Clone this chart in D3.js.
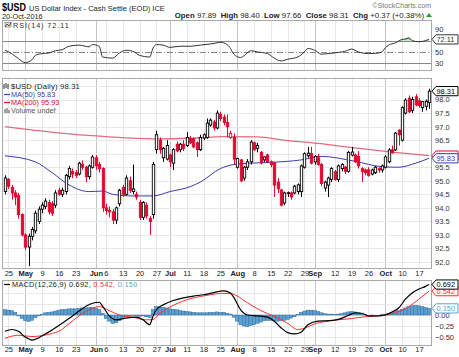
<!DOCTYPE html>
<html><head><meta charset="utf-8">
<script src="https://cdn.jsdelivr.net/npm/d3@7"></script>
<style>
body{margin:0;background:#fff}
svg{display:block}
text{font-family:"Liberation Sans",Arial,sans-serif}
</style>
</head><body>
<svg id="c" width="459" height="357"></svg>
<script>
// ---------- DATA ----------
const dates = ["04-22","04-25","04-26","04-27","04-28","04-29",
"05-02","05-03","05-04","05-05","05-06","05-09","05-10","05-11","05-12","05-13","05-16","05-17","05-18","05-19","05-20","05-23","05-24","05-25","05-26","05-27","05-31",
"06-01","06-02","06-03","06-06","06-07","06-08","06-09","06-10","06-13","06-14","06-15","06-16","06-17","06-20","06-21","06-22","06-23","06-24","06-27","06-28","06-29","06-30",
"07-01","07-05","07-06","07-07","07-08","07-11","07-12","07-13","07-14","07-15","07-18","07-19","07-20","07-21","07-22","07-25","07-26","07-27","07-28","07-29",
"08-01","08-02","08-03","08-04","08-05","08-08","08-09","08-10","08-11","08-12","08-15","08-16","08-17","08-18","08-19","08-22","08-23","08-24","08-25","08-26","08-29","08-30","08-31",
"09-01","09-02","09-06","09-07","09-08","09-09","09-12","09-13","09-14","09-15","09-16","09-19","09-20","09-21","09-22","09-23","09-26","09-27","09-28","09-29","09-30",
"10-03","10-04","10-05","10-06","10-07","10-10","10-11","10-12","10-13","10-14","10-17","10-18","10-19","10-20"];

const open = [94.6,95.05,94.75,94.55,94.45,93.75,93.0,92.55,92.95,93.15,93.5,93.95,94.05,94.2,94.15,94.1,94.65,94.5,94.6,95.15,95.35,95.3,95.25,95.6,95.5,95.15,95.5,
95.85,95.6,95.45,94.0,93.9,93.85,93.55,94.15,94.75,94.5,95.0,94.6,94.5,94.2,93.65,94.1,93.6,93.75,96.15,96.5,95.85,95.8,
95.95,95.65,96.35,96.15,96.35,96.3,96.55,96.55,96.4,96.15,96.58,96.6,97.06,97.17,96.95,97.45,97.35,97.15,96.6,96.6,
95.5,95.77,95.1,95.5,95.7,96.4,96.2,96.05,95.77,95.95,95.7,95.66,94.95,94.66,94.18,94.55,94.55,94.55,94.6,94.6,95.5,95.92,96.0,
95.7,95.85,95.6,94.73,94.84,95.05,95.33,95.05,95.45,95.5,95.35,95.95,95.95,95.9,95.45,95.4,95.4,95.25,95.3,95.45,95.4,
95.5,95.7,96.14,96.14,96.87,96.5,97.5,98.05,97.6,98.1,97.95,97.7,97.75,97.89];
const high = [95.2,95.1,94.85,94.65,94.55,93.8,93.05,93.05,93.3,93.9,94.05,94.2,94.35,94.3,94.25,94.65,94.75,94.75,95.25,95.55,95.45,95.4,95.7,95.75,95.55,95.6,95.95,
95.95,95.7,95.5,94.15,94.05,93.95,94.05,94.7,94.85,95.2,95.15,95.6,94.6,94.3,94.25,94.2,93.7,95.7,96.85,96.6,96.25,96.5,
96.0,96.2,96.45,96.4,96.5,96.8,96.65,96.6,96.45,96.7,96.75,97.3,97.3,97.25,97.6,97.55,97.45,97.45,96.85,96.75,
95.85,95.8,95.55,95.8,96.5,96.45,96.4,96.1,95.9,96.0,95.75,95.7,95.1,94.7,94.6,94.6,94.6,94.85,94.9,95.6,96.05,96.25,96.25,
95.95,96.0,95.65,95.0,95.15,95.5,95.4,95.6,95.65,95.55,96.1,96.25,96.0,96.1,95.5,95.45,95.5,95.45,95.55,95.5,95.6,
95.95,96.2,96.3,96.8,96.9,97.75,98.05,98.15,98.1,98.2,98.05,97.95,98.0,98.40];
const low = [94.5,94.7,94.3,94.1,93.6,92.95,92.45,91.85,92.8,93.05,93.4,93.8,93.95,93.75,93.7,94.0,94.45,94.4,94.5,95.05,95.1,95.1,95.2,95.4,94.95,95.05,95.45,
95.4,95.3,93.85,93.75,93.65,93.4,93.4,94.05,94.4,94.45,94.55,94.5,94.3,93.55,93.55,93.6,93.0,93.6,96.0,96.0,95.7,95.75,
95.5,95.4,96.05,96.05,96.1,96.25,96.35,96.2,95.88,96.1,96.5,96.55,97.0,96.85,96.9,97.2,97.05,96.6,96.55,95.6,
95.45,94.95,95.0,95.4,95.6,96.1,96.05,95.6,95.7,95.65,95.5,94.4,94.55,94.05,94.1,94.4,94.3,94.5,94.5,94.4,95.45,95.85,95.6,
95.6,95.55,94.8,94.6,94.4,94.95,95.0,94.95,95.35,95.25,95.3,95.9,95.65,95.45,94.95,95.2,95.15,95.2,95.25,95.3,95.3,
95.45,95.65,96.0,96.1,96.3,96.45,97.45,97.5,97.5,97.75,97.7,97.55,97.6,97.66];
const close = [95.1,94.8,94.55,94.4,93.75,93.0,92.55,92.95,93.2,93.8,93.95,94.1,94.25,93.85,93.8,94.55,94.5,94.65,95.2,95.45,95.25,95.2,95.65,95.5,95.15,95.55,95.88,
95.55,95.45,94.0,93.9,93.85,93.55,94.0,94.65,94.5,95.1,94.65,94.7,94.4,93.65,94.2,93.7,93.5,95.6,96.7,96.15,96.2,96.3,
95.7,96.15,96.1,96.35,96.2,96.6,96.4,96.25,96.15,96.6,96.7,97.13,97.24,96.95,97.5,97.3,97.15,97.0,96.75,95.8,
95.82,95.0,95.5,95.7,96.43,96.15,96.3,95.66,95.88,95.7,95.6,94.84,94.7,94.1,94.55,94.56,94.4,94.8,94.85,95.55,96.0,96.02,95.65,
95.9,95.6,94.9,94.95,95.1,95.45,95.05,95.55,95.6,95.35,96.05,96.06,95.7,95.55,95.35,95.3,95.2,95.4,95.5,95.4,95.55,
95.88,96.14,96.03,96.76,96.7,97.7,97.98,97.55,98.0,97.8,97.78,97.92,97.94,98.31];

// moving averages, read at sampled sessions (index into dates)
const ma50Idx = [0,9,14,19,25,29,32,38,44,49,55,58,64,68,73,79,88,94,104,112,117,122,126];
const ma50Val = [95.92,95.7,95.3,94.85,94.6,94.62,94.5,94.44,94.44,94.6,94.78,94.95,95.45,95.6,95.65,95.68,95.77,95.9,95.72,95.52,95.5,95.65,95.83];
const ma200Idx = [0,9,20,30,44,55,65,75,83,95,105,115,126];
const ma200Val = [97.0,96.86,96.72,96.63,96.55,96.57,96.63,96.62,96.5,96.35,96.2,96.06,95.93];

// RSI(14), sampled
const rsiIdx = [0,2,4,6,8,9,11,13,15,17,19,22,25,26,28,29,32,34,36,38,40,43,44,45,47,49,52,55,58,61,63,64,66,67,68,70,71,73,75,78,80,82,84,87,89,90,92,94,96,99,101,103,105,108,111,112,113,114,116,118,119,120,121,123,125,126];
const rsiVal = [53,47,38,31,36,44,47,48,52,54,60,62,59,63,60,41,39,48,53,51,44,41,57,63,62,58,60,60,62,64,66,67,63,56,46,40,43,52,50,47,39,34,37,41,50,56,53,46,47,49,51,55,50,47,48,50,57,62,66,72,73,75,70,68,70,72.11];

// MACD(12,26,9), sampled
const macdIdx = [0,2,4,6,8,10,12,14,16,19,22,25,28,29,31,33,36,39,41,43,44,45,47,50,53,56,59,62,65,67,68,70,72,75,78,80,82,84,86,88,90,93,96,99,102,104,106,108,111,113,115,117,119,121,123,125,126];
const macdVal = [-0.37,-0.33,-0.37,-0.5,-0.57,-0.52,-0.43,-0.34,-0.24,-0.08,0.09,0.24,0.29,0.2,-0.02,-0.11,-0.07,-0.05,-0.11,-0.22,-0.02,0.12,0.23,0.33,0.39,0.43,0.46,0.51,0.55,0.5,0.4,0.12,0.0,-0.02,-0.05,-0.14,-0.29,-0.4,-0.43,-0.39,-0.22,-0.14,-0.13,-0.1,-0.01,0.05,0.04,-0.02,-0.02,0.0,0.07,0.16,0.36,0.5,0.59,0.65,0.692];
const sigIdx = [0,4,8,11,14,16,19,22,25,28,31,34,38,42,44,46,49,52,55,58,61,64,67,69,72,76,80,84,87,89,92,95,99,103,107,111,113,116,120,123,126];
const sigVal = [-0.53,-0.46,-0.49,-0.47,-0.42,-0.37,-0.2,-0.02,0.12,0.19,0.1,0.0,-0.05,-0.11,-0.1,0.04,0.18,0.29,0.37,0.42,0.46,0.49,0.49,0.43,0.28,0.1,-0.03,-0.19,-0.33,-0.3,-0.2,-0.15,-0.11,-0.08,-0.04,-0.02,0.0,0.05,0.19,0.36,0.542];
const histVal = [0.12,0.11,0.1,0.06,
-0.02,-0.08,-0.13,-0.15,-0.12,-0.06,
-0.02,0.02,0.05,0.06,0.07,
0.09,0.11,0.12,0.13,0.14,0.14,0.14,0.15,0.16,0.16,
0.17,0.17,0.15,0.12,0.04,
-0.08,-0.14,-0.19,-0.18,-0.13,
-0.07,-0.04,-0.02,-0.01,-0.02,-0.03,-0.02,-0.04,-0.06,
0.12,0.19,0.18,0.17,0.16,0.14,
0.13,0.12,0.1,0.09,0.08,0.07,0.06,0.05,0.05,
0.05,0.05,0.06,0.06,0.07,0.06,0.06,0.04,0.02,
-0.05,-0.14,-0.22,-0.25,-0.26,-0.24,-0.22,-0.19,-0.16,
-0.13,-0.12,-0.12,-0.13,-0.14,-0.13,-0.12,-0.1,-0.07,-0.04,
0.01,0.06,0.09,0.11,0.11,0.1,0.08,0.05,0.03,
0.02,0.02,0.01,0.02,0.03,0.05,
0.07,0.08,0.07,0.05,0.03,
0.01,0.0,-0.01,0.0,0.0,0.01,0.02,
0.04,0.06,0.08,0.1,0.13,0.16,0.19,0.21,0.22,0.21,0.19,0.17,0.15];

// x-axis ticks
const tickDates = ["04-25","05-02","05-09","05-16","05-23","06-01","06-06","06-13","06-20","06-27","07-01","07-11","07-18","07-25","08-01","08-08","08-15","08-22","08-29","09-01","09-12","09-19","09-26","10-03","10-10","10-17"];
const tickLabels = ["25","May","9","16","23","Jun","6","13","20","27","Jul","11","18","25","Aug","8","15","22","29","Sep","12","19","26","Oct","10","17"];
const mainTicks = [92.0,92.5,93.0,93.5,94.0,94.5,95.0,95.5,96.0,96.5,97.0,97.5,98.0,98.5];
const rsiTicks = [90,50,30];
const macdTicks = [0.50,0.25,0.00,-0.25,-0.50];

// ---------- DRAW ----------
const svg = d3.select("#c");
const X0 = 2, X1 = 432;
const x = d3.scaleLinear().domain([0, dates.length-1]).range([5, 429]);
const P = {
  rsi:  {top:20, bot:70},
  main: {top:78, bot:268},
  macd: {top:280, bot:345}
};
const yRsi = d3.scaleLinear().domain([30,70]).range([63.2,40.6]);
const yMain = d3.scaleLinear().domain([92,98.5]).range([262,86]);
const yMacd = d3.scaleLinear().domain([-0.5,0.5]).range([337,293]);

const RED = "#e0062e", BLUE = "#3b3bb0", MA200C = "#e46a82", HIST = "#5c9fd0", HISTS = "#2f6f9f";
const tickIdx = tickDates.map(d => dates.indexOf(d));
const isMonth = s => isNaN(+s);

const defs = svg.append("defs");
Object.entries(P).forEach(([k,p]) => {
  defs.append("clipPath").attr("id","clip-"+k).append("rect")
    .attr("x",X0).attr("y",p.top).attr("width",X1-X0).attr("height",p.bot-p.top);
});

function frame(p){
  const g = svg.append("g");
  g.selectAll("line.v").data(tickIdx).join("line")
    .attr("x1",(d)=>Math.round(x(d))+0.5).attr("x2",(d)=>Math.round(x(d))+0.5)
    .attr("y1",p.top).attr("y2",p.bot)
    .attr("stroke",(d,i)=>isMonth(tickLabels[i])?"#c4c4c4":"#e8e8e8").attr("stroke-width",1);
  return g;
}
function border(p){
  svg.append("rect").attr("x",X0+0.5).attr("y",p.top+0.5).attr("width",X1-X0-1).attr("height",p.bot-p.top)
    .attr("fill","none").attr("stroke","#a8a8a8");
}
function valueBox(yv, label, col){
  const g = svg.append("g").attr("transform",`translate(${X1},${yv})`);
  g.append("path").attr("d","M0,0 L4,-4.6 L26,-4.6 L26,4.6 L4,4.6 Z")
    .attr("fill","#fff").attr("stroke",col).attr("stroke-width",1);
  g.append("text").attr("x",4.5).attr("y",2.8).attr("font-size",7.4).attr("fill",col).text(label);
}
// right axis, hiding labels that sit under a value box (as in the reference)
function rightAxis(scale, ticks, fmt, boxes){
  const vis = ticks.filter(t => !boxes.some(b => Math.abs(scale(t)-scale(b)) < 6));
  const ax = d3.axisRight(scale).tickValues(vis).tickSize(0).tickPadding(3).tickFormat(d3.format(fmt));
  const a = svg.append("g").attr("transform",`translate(${X1},0)`).call(ax);
  a.select(".domain").remove();
  a.selectAll("text").attr("font-size",7.5).attr("fill","#333").attr("font-family","Liberation Sans");
}

// ---- header ----
svg.append("text").attr("x",2).attr("y",11).attr("font-size",11.5).attr("font-weight","bold")
  .attr("textLength",24).attr("lengthAdjust","spacingAndGlyphs").attr("fill","#000").text("$USD");
svg.append("text").attr("x",29).attr("y",10.5).attr("font-size",7.5).attr("fill","#222").text("US Dollar Index - Cash Settle (EOD) ICE");
svg.append("text").attr("x",2).attr("y",18.5).attr("font-size",7.3).attr("fill","#222").text("20-Oct-2016");
svg.append("text").attr("x",431).attr("y",8).attr("font-size",7).attr("text-anchor","end").attr("fill","#777").text("©StockCharts.com");
const hdr = svg.append("text").attr("x",424).attr("y",18).attr("font-size",7.8).attr("text-anchor","end").attr("fill","#222");
[["Open ",true],["97.89  ",false],["High ",true],["98.40  ",false],["Low ",true],["97.66  ",false],["Close ",true],["98.31  ",false],["Chg ",true],["+0.37 (+0.38%)",false]]
  .forEach(([t,b]) => hdr.append("tspan").attr("font-weight",b?"bold":"normal").attr("xml:space","preserve").text(t));
svg.append("path").attr("d","M426,17 L429,13 L432,17 Z").attr("fill","#2a9a3a");

// ---- RSI panel ----
{
  const p = P.rsi; frame(p);
  const g = svg.append("g").attr("clip-path","url(#clip-rsi)");
  [70,30].forEach(v => g.append("line").attr("x1",X0).attr("x2",X1).attr("y1",Math.round(yRsi(v))+0.5).attr("y2",Math.round(yRsi(v))+0.5).attr("stroke","#888"));
  g.append("line").attr("x1",X0).attr("x2",X1).attr("y1",Math.round(yRsi(50))+0.5).attr("y2",Math.round(yRsi(50))+0.5)
    .attr("stroke","#888").attr("stroke-dasharray","6,2,1,2");
  const pts = rsiIdx.map((d,i)=>[d,rsiVal[i]]);
  g.append("path").datum(pts)
    .attr("d", d3.area().x(d=>x(d[0])).y0(yRsi(70)).y1(d=>yRsi(Math.max(70,d[1]))).curve(d3.curveMonotoneX))
    .attr("fill","#7ccf7c").attr("opacity",0.8);
  g.append("path").datum(pts)
    .attr("d", d3.line().x(d=>x(d[0])).y(d=>yRsi(d[1])).curve(d3.curveMonotoneX))
    .attr("fill","none").attr("stroke","#333").attr("stroke-width",1);
  border(p);
  rightAxis(yRsi, rsiTicks, "d", [72.11]);
  valueBox(yRsi(72.11),"72.11","#333");
  svg.append("rect").attr("x",5).attr("y",22.5).attr("width",6).attr("height",4.5).attr("fill","#ddd").attr("stroke","#777").attr("stroke-width",0.6);
  svg.append("path").attr("d","M5,27 L7,24 L9,26 L11,22.5").attr("fill","none").attr("stroke","#333").attr("stroke-width",0.8);
  svg.append("text").attr("x",13).attr("y",28).attr("font-size",7.3).attr("letter-spacing",0.9).attr("fill","#333").attr("font-family","DejaVu Sans").text("RSI(14) 72.11");
}

// ---- main price panel ----
{
  const p = P.main; frame(p);
  const gg = svg.append("g");
  mainTicks.forEach(v => gg.append("line").attr("x1",X0).attr("x2",X1)
    .attr("y1",Math.round(yMain(v))+0.5).attr("y2",Math.round(yMain(v))+0.5).attr("stroke","#e8e8e8"));
  const g = svg.append("g").attr("clip-path","url(#clip-main)");
  const ma200 = ma200Idx.map((d,i)=>[d,ma200Val[i]]);
  const ma50 = ma50Idx.map((d,i)=>[d,ma50Val[i]]);
  const ln = d3.line().x(d=>x(d[0])).y(d=>yMain(d[1])).curve(d3.curveMonotoneX);
  g.append("path").datum(ma200).attr("d",ln).attr("fill","none").attr("stroke",MA200C).attr("stroke-width",1.3);
  g.append("path").datum(ma50).attr("d",ln).attr("fill","none").attr("stroke",BLUE).attr("stroke-width",1);
  const bw = 2.4;
  const candles = dates.map((d,i)=>({i,o:open[i],h:high[i],l:low[i],c:close[i],
     col: (i>0 && close[i]<close[i-1]) ? RED : "#000", hollow: close[i]>=open[i]}));
  const cg = g.selectAll("g.c").data(candles).join("g");
  cg.append("line").attr("x1",d=>Math.round(x(d.i))+0.5).attr("x2",d=>Math.round(x(d.i))+0.5)
    .attr("y1",d=>yMain(d.h)).attr("y2",d=>yMain(d.l)).attr("stroke",d=>d.col).attr("stroke-width",1);
  cg.append("rect")
    .attr("x",d=>Math.round(x(d.i))-0.7).attr("width",bw)
    .attr("y",d=>yMain(Math.max(d.o,d.c)))
    .attr("height",d=>Math.max(0.8,Math.abs(yMain(d.o)-yMain(d.c))))
    .attr("fill",d=>d.hollow?"#fff":d.col).attr("stroke",d=>d.col).attr("stroke-width",0.9);
  border(p);
  rightAxis(yMain, mainTicks, ".1f", [95.93,95.83,98.31]);
  valueBox(yMain(95.93),"95.93",RED);
  valueBox(yMain(95.83),"95.83",BLUE);
  valueBox(yMain(98.31),"98.31","#000");
  const L = svg.append("g");
  L.append("path").attr("d","M4,84 L4,89 M6,83 L6,88 M8,84 L8,89").attr("stroke","#333").attr("stroke-width",1);
  L.append("text").attr("x",11).attr("y",89).attr("font-size",7.6).attr("fill","#222").attr("letter-spacing",0.2).text("$USD (Daily) 98.31");
  L.append("line").attr("x1",4).attr("x2",10).attr("y1",94.5).attr("y2",94.5).attr("stroke",BLUE).attr("stroke-width",1.2);
  L.append("text").attr("x",11).attr("y",97).attr("font-size",7.3).attr("fill",BLUE).text("MA(50) 95.83");
  L.append("line").attr("x1",4).attr("x2",10).attr("y1",102.5).attr("y2",102.5).attr("stroke",RED).attr("stroke-width",1.2);
  L.append("text").attr("x",11).attr("y",105).attr("font-size",7.3).attr("fill",RED).text("MA(200) 95.93");
  L.append("path").attr("d","M5,113 L5,109 M7,113 L7,108 M9,113 L9,110").attr("stroke","#666").attr("stroke-width",1.2);
  L.append("text").attr("x",11).attr("y",113).attr("font-size",7.3).attr("fill","#555").text("Volume undef");
}

// ---- MACD panel ----
{
  const p = P.macd; frame(p);
  const gg = svg.append("g");
  macdTicks.forEach(v => gg.append("line").attr("x1",X0).attr("x2",X1)
    .attr("y1",Math.round(yMacd(v))+0.5).attr("y2",Math.round(yMacd(v))+0.5).attr("stroke","#e8e8e8"));
  const g = svg.append("g").attr("clip-path","url(#clip-macd)");
  g.selectAll("rect.h").data(histVal).join("rect")
    .attr("x",(d,i)=>x(i)-1.7).attr("width",3.4)
    .attr("y",d=>Math.min(yMacd(d),yMacd(0))).attr("height",d=>Math.abs(yMacd(d)-yMacd(0)))
    .attr("fill",HIST).attr("stroke",HISTS).attr("stroke-width",0.5);
  const ln = d3.line().x(d=>x(d[0])).y(d=>yMacd(d[1])).curve(d3.curveMonotoneX);
  g.append("path").datum(sigIdx.map((d,i)=>[d,sigVal[i]])).attr("d",ln).attr("fill","none").attr("stroke","#ff3030").attr("stroke-width",1);
  g.append("path").datum(macdIdx.map((d,i)=>[d,macdVal[i]])).attr("d",ln).attr("fill","none").attr("stroke","#000").attr("stroke-width",1.2);
  border(p);
  rightAxis(yMacd, macdTicks, ".2f", [0.692,0.542,0.150]);
  valueBox(yMacd(0.150),"0.150",HIST);
  valueBox(yMacd(0.542),"0.542","#ff3030");
  valueBox(yMacd(0.692),"0.692","#000");
  svg.append("line").attr("x1",4).attr("x2",10).attr("y1",284.5).attr("y2",284.5).attr("stroke","#000").attr("stroke-width",1.2);
  const t = svg.append("text").attr("x",12).attr("y",287).attr("font-size",7.3).attr("fill","#222").attr("letter-spacing",0.3);
  t.append("tspan").text("MACD(12,26,9) 0.692, ");
  t.append("tspan").attr("fill","#ff3030").text("0.542, ");
  t.append("tspan").attr("fill",HIST).text("0.150");
}

// ---- x axes ----
[277, 353].forEach(yy => {
  const ax = d3.axisBottom(x).tickValues(tickIdx).tickSize(0).tickPadding(0)
    .tickFormat((d,i)=>tickLabels[i]);
  const a = svg.append("g").attr("transform",`translate(0,${yy-7})`).call(ax);
  a.select(".domain").remove();
  a.selectAll("text").attr("font-size",7.5).attr("fill","#222").attr("font-family","Liberation Sans")
    .attr("font-weight",(d,i)=>isMonth(tickLabels[i])?"bold":"normal").attr("dy","0.75em");
});
</script>
</body></html>
